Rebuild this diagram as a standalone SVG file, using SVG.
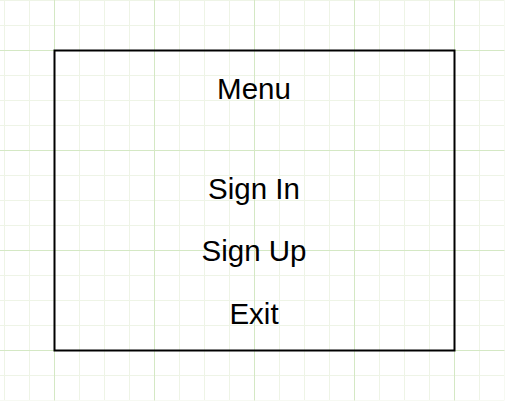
<svg xmlns="http://www.w3.org/2000/svg" width="505" height="401" viewBox="0 0 505 401">
  <defs>
    <pattern id="minor" x="4.5" y="0.5" width="25" height="25" patternUnits="userSpaceOnUse">
      <path d="M0 0.5H25M0.5 0V25" fill="none" stroke="#eef4e6" stroke-width="1"/>
    </pattern>
    <pattern id="major" x="54.5" y="50.5" width="100" height="100" patternUnits="userSpaceOnUse">
      <path d="M0 0.5H100M0.5 0V100" fill="none" stroke="#d4e8c4" stroke-width="1"/>
    </pattern>
  </defs>
  <style>
    .lbl { font-family: "Liberation Sans", Arial, sans-serif; font-size: 29.5px; fill: #000000; text-anchor: middle; }
    .box { fill: none; stroke: #000000; stroke-width: 2; }
  </style>
  <rect width="505" height="401" fill="#ffffff"/>
  <rect x="0" y="0" width="505" height="401" fill="url(#minor)" transform="translate(-0.5,-0.5)"/>
  <rect x="0" y="0" width="505" height="401" fill="url(#major)" transform="translate(-0.5,-0.5)"/>
  <g id="menu-box">
    <rect class="box" x="54.5" y="50.5" width="400" height="300"/>
  </g>
  <g id="menu-title"><text class="lbl" x="254" y="98.5">Menu</text></g>
  <g id="sign-in"><text class="lbl" x="254" y="198.5">Sign In</text></g>
  <g id="sign-up"><text class="lbl" x="254" y="261">Sign Up</text></g>
  <g id="exit"><text class="lbl" x="254" y="323.5">Exit</text></g>
  <g id="connectors"/>
</svg>
